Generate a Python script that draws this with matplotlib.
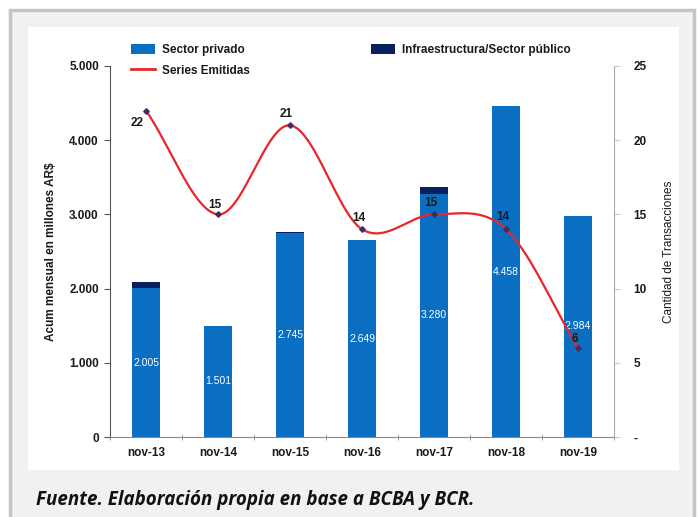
import numpy as np
import matplotlib.pyplot as plt
from matplotlib.patches import Rectangle, Patch
from matplotlib.lines import Line2D

categorias = ["nov-13", "nov-14", "nov-15", "nov-16", "nov-17", "nov-18", "nov-19"]
sector_privado = [2005, 1501, 2745, 2649, 3280, 4458, 2984]
infraestructura = [80, 0, 15, 0, 90, 0, 0]
series_emitidas = [22, 15, 21, 14, 15, 14, 6]

azul = "#0a6fc2"
navy = "#0b1f5c"
rojo = "#e8262b"
txt = "#1a1a1a"

plt.rcParams['font.family'] = ['Liberation Sans', 'DejaVu Sans']

W, H = 698, 517
fig = plt.figure(figsize=(W / 100, H / 100), dpi=100)
fig.patch.set_facecolor("white")

def px(x0, y0, x1, y1):
    # pixel box -> figure fraction rectangle
    return (x0 / W, 1 - y1 / H, (x1 - x0) / W, (y1 - y0) / H)

# marco gris y panel blanco
x, y, w, h = px(10, 10, 694, 530)
fig.patches.append(Rectangle((x, y), w, h, transform=fig.transFigure,
                             facecolor="#f1f1f1", edgecolor="#c4c4c4", lw=2.5, zorder=-3))
x, y, w, h = px(28, 27, 679, 470)
fig.patches.append(Rectangle((x, y), w, h, transform=fig.transFigure,
                             facecolor="white", edgecolor="none", zorder=-2))

ax = fig.add_axes(px(110, 66, 614, 437))
ax.set_facecolor("none")
xs = np.arange(len(categorias))

ax.bar(xs, sector_privado, width=0.4, color=azul, zorder=2)
ax.bar(xs, infraestructura, width=0.4, bottom=sector_privado, color=navy, zorder=2)

for xi, v in zip(xs, sector_privado):
    ax.text(xi, v / 2, f"{v:,}".replace(",", "."), ha="center", va="center",
            color="white", fontsize=7.5, zorder=5)

ax.set_xlim(-0.5, len(categorias) - 0.5)
ax.set_ylim(0, 5000)
ax.set_yticks(range(0, 5001, 1000))
ax.set_yticklabels([f"{v:,}".replace(",", ".") for v in range(0, 5001, 1000)])
ax.set_xticks(xs)
ax.set_xticklabels(categorias, fontweight="bold")
ax.set_xticks(np.arange(-0.5, len(categorias), 1), minor=True)
ax.tick_params(axis="x", which="major", length=0, pad=7, labelsize=8.5, colors=txt)
ax.tick_params(axis="x", which="minor", length=4, color="#888888", direction="inout")
ax.tick_params(axis="y", length=4, color="#555555", labelsize=8.5, colors=txt, pad=4)
for lab in ax.get_yticklabels():
    lab.set_fontweight("bold")
for s in ["top", "right"]:
    ax.spines[s].set_visible(False)
ax.spines["left"].set_color("#555555")
ax.spines["bottom"].set_color("#888888")
ax.set_ylabel("Acum mensual en millones AR$", fontsize=8.5, fontweight="bold", color=txt, labelpad=9)

ax2 = ax.twinx()
ax2.set_ylim(0, 25)
ax2.set_yticks(range(0, 26, 5))
ax2.set_yticklabels(["-"] + [str(v) for v in range(5, 26, 5)], fontweight="bold")
ax2.tick_params(axis="y", length=4, color="#cccccc", labelsize=8.5, colors=txt, pad=10)
for s in ["top", "left", "bottom"]:
    ax2.spines[s].set_visible(False)
ax2.spines["right"].set_color("#aaaaaa")
ax2.set_ylabel("Cantidad de Transacciones", fontsize=8.5, color=txt, labelpad=12)

# linea suavizada (Catmull-Rom como Excel)
yv = np.array(series_emitidas, dtype=float)
xv = xs.astype(float)
px_ = np.concatenate([[2 * xv[0] - xv[1]], xv, [2 * xv[-1] - xv[-2]]])
py_ = np.concatenate([[2 * yv[0] - yv[1]], yv, [2 * yv[-1] - yv[-2]]])
t = np.linspace(0, 1, 30)
cx, cy = [], []
for i in range(1, len(px_) - 2):
    p0, p1, p2, p3 = px_[i - 1], px_[i], px_[i + 1], px_[i + 2]
    q0, q1, q2, q3 = py_[i - 1], py_[i], py_[i + 1], py_[i + 2]
    bx = ((1 - t) ** 3 * p1 + 3 * (1 - t) ** 2 * t * (p1 + (p2 - p0) / 6)
          + 3 * (1 - t) * t ** 2 * (p2 - (p3 - p1) / 6) + t ** 3 * p2)
    by = ((1 - t) ** 3 * q1 + 3 * (1 - t) ** 2 * t * (q1 + (q2 - q0) / 6)
          + 3 * (1 - t) * t ** 2 * (q2 - (q3 - q1) / 6) + t ** 3 * q2)
    cx.extend(bx)
    cy.extend(by)
ax2.plot(cx, cy, color=rojo, lw=1.6, zorder=4)
ax2.plot(xs, series_emitidas, ls="none", marker="D", ms=2.8, color="#4a2a5a", zorder=5)

offsets = [-9, 7, 8, 8, 8, 9, 6.5]
for xi, v, o in zip(xs, series_emitidas, offsets):
    dx = -0.12 if o < 0 else -0.05
    ax2.annotate(str(v), (xi + dx, v), xytext=(0, o), textcoords="offset points",
                 ha="center", va="center", fontsize=8.5, fontweight="bold", color=txt, zorder=6)

h1 = [Patch(facecolor=azul), Line2D([], [], color=rojo, lw=2)]
leg1 = fig.legend(h1, ["Sector privado", "Series Emitidas"], loc="upper left",
                  bbox_to_anchor=(125 / W, 1 - 38 / H), frameon=False, fontsize=8.5,
                  handlelength=2.0, handleheight=0.9, labelspacing=0.75, handletextpad=0.6,
                  borderpad=0)
for tx in leg1.get_texts():
    tx.set_fontweight("bold")
    tx.set_color(txt)
leg2 = fig.legend([Patch(facecolor=navy)], ["Infraestructura/Sector público"], loc="upper left",
                  bbox_to_anchor=(365 / W, 1 - 38 / H), frameon=False, fontsize=8.5,
                  handlelength=2.0, handleheight=0.9, handletextpad=0.6, borderpad=0)
for tx in leg2.get_texts():
    tx.set_fontweight("bold")
    tx.set_color(txt)

fig.text(36 / W, 1 - 500 / H, "Fuente. Elaboración propia en base a BCBA y BCR.",
         family=["Open Sans", "DejaVu Sans"], fontsize=13.5, fontweight="bold", fontstyle="italic",
         color="#111111", va="center", ha="left")

fig.savefig("out.png", dpi=100)
